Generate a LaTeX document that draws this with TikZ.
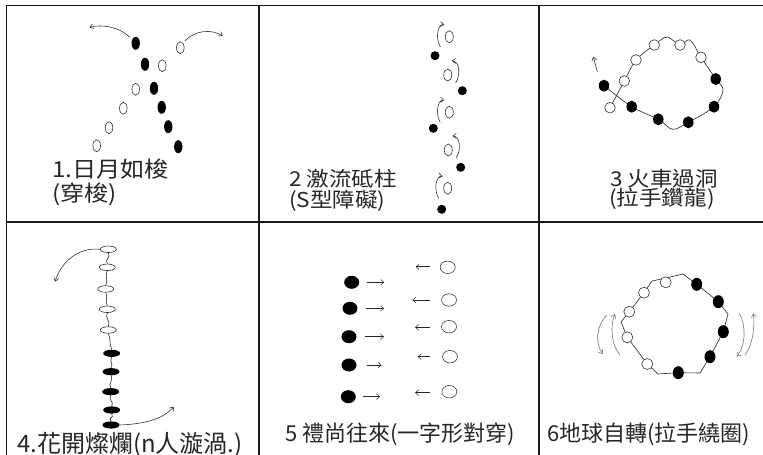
\documentclass[tikz,border=0pt]{standalone}
\usepackage{fontspec}
\usepackage{graphicx}
\newfontfamily\cjk{Noto Sans CJK TC}
\usetikzlibrary{shapes.geometric,arrows.meta}
\newcommand{\wtxt}[1]{\scalebox{1.1}[1]{#1}}
\begin{document}
\begin{tikzpicture}[x=1pt,y=-1pt,
  gridl/.style={line width=1.2pt, black!90},
  thinl/.style={line width=0.6pt, black!85},
  arr/.style={line width=0.6pt, black!80, -{Straight Barb[length=3.5pt,width=5pt]}},
  garr/.style={line width=0.6pt, black!55, -{Straight Barb[length=3.5pt,width=5pt]}},
  lab/.style={anchor=base west, inner sep=0pt, text=black!85},
  fa/.style={font={\cjk\fontsize{22}{26}\selectfont}},
  fb/.style={font={\cjk\fontsize{20.5}{24}\selectfont}},
  fc/.style={font={\cjk\fontsize{24}{28}\selectfont}},
  fd/.style={font={\cjk\fontsize{22}{26}\selectfont}},
  p1b/.style={ellipse, fill=black, inner sep=0pt, minimum width=8.4pt, minimum height=13pt},
  p1w/.style={ellipse, draw=black!80, fill=white, line width=0.6pt, inner sep=0pt, minimum width=7.6pt, minimum height=12pt},
  p2b/.style={circle, fill=black, inner sep=0pt, minimum size=9pt},
  p2w/.style={ellipse, draw=black!80, fill=white, line width=0.6pt, inner sep=0pt, minimum width=8pt, minimum height=12pt},
  p3b/.style={ellipse, fill=black, inner sep=0pt, minimum width=10.5pt, minimum height=12pt},
  p3w/.style={circle, draw=black!80, fill=white, line width=0.6pt, inner sep=0pt, minimum size=10.6pt},
  p4w/.style={ellipse, draw=black!80, fill=white, line width=0.6pt, inner sep=0pt, minimum width=16pt, minimum height=6.5pt},
  p4b/.style={ellipse, fill=black, inner sep=0pt, minimum width=17pt, minimum height=7.2pt},
  p5b/.style={ellipse, fill=black, inner sep=0pt, minimum width=15pt, minimum height=13pt},
  p5w/.style={ellipse, draw=black!75, fill=white, line width=0.6pt, inner sep=0pt, minimum width=15pt, minimum height=12.5pt},
  p6w/.style={circle, draw=black!80, fill=white, line width=0.6pt, inner sep=0pt, minimum size=11pt},
  p6b/.style={ellipse, fill=black, inner sep=0pt, minimum width=11pt, minimum height=13pt},
  sarr/.style={line width=0.5pt, black!85, -{Straight Barb[length=3.2pt,width=5.5pt]}},
  curlL/.pic={\draw[arr] (-9,10) .. controls (-14,2) and (-12,-13) .. (-5,-12);},
  curlR/.pic={\draw[arr] (8,8) .. controls (13,0) and (12,-14) .. (4,-14);}
]
\useasboundingbox (0,0) rectangle (763,455);
\fill[white] (0,0) rectangle (763,455);
% grid
\draw[gridl] (6,5.5) -- (763,5.5);
\draw[gridl] (6,222) -- (763,222);
\draw[gridl] (6.5,5.5) -- (6.5,455);
\draw[gridl] (259,5.5) -- (259,455);
\draw[gridl] (539,5.5) -- (539,455);

% ---------- panel 1
\node[p1b] (a1) at (135.7,43.3) {};
\node[p1b] (a2) at (145,64.3) {};
\node[p1b] (a3) at (154,88.3) {};
\node[p1b] (a4) at (161.7,107.3) {};
\node[p1b] (a5) at (168.3,126.7) {};
\node[p1b] (a6) at (178.3,146.7) {};
\node[p1w] (w1) at (180.3,47.7) {};
\node[p1w] (w2) at (162.3,65.7) {};
\node[p1w] (w3) at (135.7,89.3) {};
\node[p1w] (w4) at (123.3,108.3) {};
\node[p1w] (w5) at (109,127.7) {};
\node[p1w] (w6) at (96.7,145.7) {};
\coordinate (a1e) at (89.3,27.3);
\coordinate (w1e) at (222.7,36);
\draw[arr, shorten <=3pt] (a1.135) .. controls (120,27) and (102,24) .. (a1e);
\draw[arr, shorten <=3pt] (w1.60) .. controls (195,30) and (212,29) .. (w1e);
\node[lab, fa] (t1a) at (52,177) {\wtxt{1.日月如梭}};
\node[lab, fa] (t1b) at (52,201) {\wtxt{(穿梭)}};

% ---------- panel 2
\node[p2b] (d1) at (435,55.7) {};
\node[p2b] (d2) at (462.3,90.7) {};
\node[p2b] (d3) at (433.3,128.3) {};
\node[p2b] (d4) at (460.7,167.3) {};
\node[p2b] (d5) at (441.7,209.3) {};
\node[p2w] (e1) at (449.3,36.7) {};
\node[p2w] (e2) at (447.7,75) {};
\node[p2w] (e3) at (449.3,112.3) {};
\node[p2w] (e4) at (448.3,150) {};
\node[p2w] (e5) at (447.7,188.3) {};
\pic at (e1) {curlL};
\pic at (e2) {curlR};
\pic at (e3) {curlL};
\pic at (e4) {curlR};
\pic at (e5) {curlL};
\node[lab, fb] (t2a) at (289,186) {\wtxt{2 激流砥柱}};
\node[lab, fb] (t2b) at (289,207) {\wtxt{(S型障礙)}};

% ---------- panel 3
\coordinate (g1) at (604,85.7);
\coordinate (g2) at (631.7,106.7);
\coordinate (g3) at (658.3,119.3);
\coordinate (g4) at (688.3,122.3);
\coordinate (g5) at (714,106.7);
\coordinate (g6) at (715.7,79);
\coordinate (h1) at (701,57.3);
\coordinate (h2) at (680,45);
\coordinate (h3) at (654.3,45);
\coordinate (h4) at (636,60);
\coordinate (h5) at (624.3,81);
\coordinate (h6) at (610,107.7);
\draw[thinl] plot[smooth, tension=0.55] coordinates {(g1) (g2) (g3) (672.7,129.3) (g4) (g5) (723,90) (g6) (h1) (690,40) (h2) (667,37) (h3) (h4) (h5) (h6)};
\foreach \n in {g1,g2,g3,g4,g5,g6} \node[p3b] at (\n) {};
\foreach \n in {h1,h2,h3,h4,h5,h6} \node[p3w] at (\n) {};
\coordinate (k1) at (597.3,71.7);
\coordinate (k2) at (593.3,56.7);
\draw[arr] (k1) -- (k2);
\node[lab, fb] (t3a) at (610,186) {\wtxt{3 火車過洞}};
\node[lab, fb] (t3b) at (609,205) {\wtxt{(拉手鑽龍)}};

% ---------- panel 4
\node[p4w] (o1) at (108.3,249.3) {};
\node[p4w] (o2) at (107.3,267.3) {};
\node[p4w] (o3) at (105.7,289) {};
\node[p4w] (o4) at (107.3,309.3) {};
\node[p4w] (o5) at (108.3,330) {};
\node[p4b] (b1) at (111.7,353.3) {};
\node[p4b] (b2) at (111,371.7) {};
\node[p4b] (b3) at (110.7,391.7) {};
\node[p4b] (b4) at (111.7,410) {};
\node[p4b] (b5) at (111,425) {};
\foreach \u/\v/\s in {o1/o2/1,o2/o3/-1,o3/o4/1,o4/o5/-1,o5/b1/1,b1/b2/-1,b2/b3/1,b3/b4/-1,b4/b5/1}
  \draw[thinl] (\u.south) .. controls +(3*\s,5) and +(-3*\s,-5) .. (\v.north);
\coordinate (o1e) at (55,281.7);
\coordinate (b5e) at (174,406.7);
\draw[arr] (o1.west) .. controls (80,247) and (62,260) .. (o1e);
\draw[arr] (b5.east) .. controls (145,424) and (163,419) .. (b5e);
\node[lab, fc] (t4) at (17,452) {4.花開燦爛(n人漩渦.)};

% ---------- panel 5
\node[p5b] (m1) at (351.7,282.3) {};
\node[p5b] (m2) at (350,308.3) {};
\node[p5b] (m3) at (349,336.7) {};
\node[p5b] (m4) at (349,365) {};
\node[p5b] (m5) at (348.3,396.7) {};
\node[p5w] (n1) at (447.7,267.3) {};
\node[p5w] (n2) at (449,300) {};
\node[p5w] (n3) at (449,326.7) {};
\node[p5w] (n4) at (450,356.7) {};
\node[p5w] (n5) at (449.3,391.7) {};
\coordinate (m1a) at (366.7,282.3); \coordinate (m1e) at (384.3,282.3);
\coordinate (m2a) at (366,308.3);   \coordinate (m2e) at (384,308.3);
\coordinate (m3a) at (365,336.7);   \coordinate (m3e) at (384,336.7);
\coordinate (m4a) at (366.7,365);   \coordinate (m4e) at (381.7,365);
\coordinate (m5a) at (363.3,396.7); \coordinate (m5e) at (380,396.7);
\foreach \i in {1,...,5} \draw[sarr] (m\i a) -- (m\i e);
\coordinate (n1a) at (430,266.7); \coordinate (n1e) at (415.7,266.7);
\coordinate (n2a) at (430,300);   \coordinate (n2e) at (412.3,300);
\coordinate (n3a) at (430,327.3); \coordinate (n3e) at (415,327.3);
\coordinate (n4a) at (430,356.7); \coordinate (n4e) at (417.7,356.7);
\coordinate (n5a) at (430,392.7); \coordinate (n5e) at (415,392.7);
\foreach \i in {1,...,5} \draw[sarr] (n\i a) -- (n\i e);
\node[lab, fd] (t5) at (285,441) {5 禮尚往來(一字形對穿)};

% ---------- panel 6
\coordinate (q1) at (665.7,282.3);
\coordinate (q2) at (644,292.7);
\coordinate (q3) at (629.3,311.7);
\coordinate (q4) at (627.3,337.3);
\coordinate (q5) at (647.3,364);
\coordinate (r1) at (696.7,284.3);
\coordinate (r2) at (718.3,301.7);
\coordinate (r3) at (723.3,331.7);
\coordinate (r4) at (710,356.7);
\coordinate (r5) at (678.3,372.7);
\draw[thinl] (666,278) -- (683,274) -- (r1) -- (r2) -- (728,314) -- (r3) -- (r4) -- (700,373) -- (r5) -- (658,374) -- (q5) -- (q4) -- (621,322) -- (q3) -- (q2) -- (652,281) -- cycle;
\foreach \n in {q1,q2,q3,q4,q5} \node[p6w] at (\n) {};
\foreach \n in {r1,r2,r3,r4,r5} \node[p6b] at (\n) {};
\coordinate (s1) at (606.7,315); \coordinate (s1e) at (603,354);
\coordinate (s2) at (620,355);   \coordinate (s2e) at (615,314);
\coordinate (s3) at (739.3,313.3); \coordinate (s3e) at (736.7,356.7);
\coordinate (s4) at (745,355);   \coordinate (s4e) at (753.3,313.3);
\draw[garr] (s1) .. controls (596,326) and (595,344) .. (s1e);
\draw[garr] (s2) .. controls (611,345) and (610,325) .. (s2e);
\draw[garr] (s3) .. controls (746,325) and (746,345) .. (s3e);
\draw[garr] (s4) .. controls (753,345) and (755,325) .. (s4e);
\node[lab, fd] (t6) at (547,441) {6地球自轉(拉手繞圈)};
\end{tikzpicture}
\end{document}
